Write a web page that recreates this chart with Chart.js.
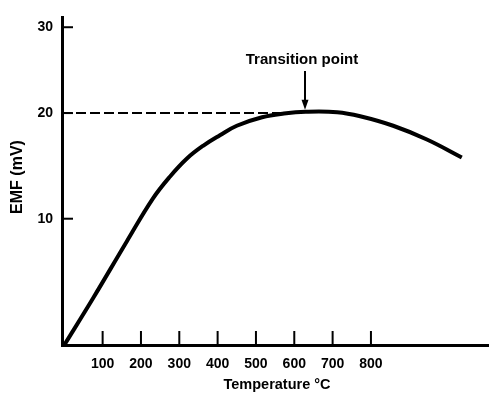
<!DOCTYPE html>
<html>
<head>
<meta charset="utf-8">
<script src="https://cdn.jsdelivr.net/npm/chart.js@4.4.1/dist/chart.umd.min.js"></script>
<style>
  html, body { margin: 0; padding: 0; background: #fff; }
  #wrap { width: 489px; height: 394px; }
</style>
</head>
<body>
<div id="wrap"><canvas id="myChart" width="489" height="394"></canvas></div>
<script>
// EMF vs temperature
var temperatures = [0, 75, 163, 231, 276, 320, 362, 406, 450, 516, 573, 630, 712, 772, 858, 946, 1037];
var emfValues    = [0, 3.7, 8.2, 11.9, 14.0, 15.7, 16.9, 17.9, 18.8, 19.6, 19.95, 20.15, 20.1, 19.7, 18.8, 17.5, 15.8];

var xTickValues = [100, 200, 300, 400, 500, 600, 700, 800];
var yTickValues = [10, 20, 30];

var transitionTemp = 628;
var transitionEmf = 20.15;
var dashedLevel = 20;

var xTitle = "Temperature °C";
var yTitle = "EMF (mV)";
var noteText = "Transition point";

// the printed y axis is not evenly spaced, so the scale is warped piecewise
var knotValues = [0, 10, 20, 30, 31.1];
var knotFracs  = [0, 0.3855, 0.708, 0.970, 1];

function warp(v) {
    for (var i = 1; i < knotValues.length; i++) {
        if (v <= knotValues[i] || i == knotValues.length - 1) {
            var t = (v - knotValues[i - 1]) / (knotValues[i] - knotValues[i - 1]);
            return knotFracs[i - 1] + t * (knotFracs[i] - knotFracs[i - 1]);
        }
    }
}
function unwarp(d) {
    for (var i = 1; i < knotFracs.length; i++) {
        if (d <= knotFracs[i] || i == knotFracs.length - 1) {
            var t = (d - knotFracs[i - 1]) / (knotFracs[i] - knotFracs[i - 1]);
            return knotValues[i - 1] + t * (knotValues[i] - knotValues[i - 1]);
        }
    }
}

class WarpedScale extends Chart.LinearScale {
    getPixelForValue(value) {
        if (value === null || value === undefined) return NaN;
        return this.getPixelForDecimal(warp(value));
    }
    getValueForPixel(pixel) {
        return unwarp(this.getDecimalForPixel(pixel));
    }
}
WarpedScale.id = 'warped';
WarpedScale.defaults = Chart.LinearScale.defaults;
Chart.register(WarpedScale);

var FONT = "'Liberation Sans', Arial, sans-serif";

// inward tick marks, titles and the annotation
var extras = {
    id: 'extras',
    afterDraw: function (chart) {
        var ctx = chart.ctx;
        var xs = chart.scales.x, ys = chart.scales.y;
        var area = chart.chartArea;
        ctx.save();
        ctx.strokeStyle = '#000';
        ctx.fillStyle = '#000';
        ctx.lineWidth = 2;
        xTickValues.forEach(function (v) {
            var px = xs.getPixelForValue(v);
            ctx.beginPath();
            ctx.moveTo(px, area.bottom);
            ctx.lineTo(px, area.bottom - 14);
            ctx.stroke();
        });
        yTickValues.forEach(function (v) {
            var py = ys.getPixelForValue(v);
            ctx.beginPath();
            ctx.moveTo(area.left, py);
            ctx.lineTo(area.left + 11, py);
            ctx.stroke();
        });

        // axis titles
        ctx.textAlign = 'center';
        ctx.textBaseline = 'middle';
        ctx.font = "bold 14.5px " + FONT;
        ctx.fillText(xTitle, 277, 385);
        ctx.save();
        ctx.font = "bold 16px " + FONT;
        ctx.translate(18, 177);
        ctx.rotate(-Math.PI / 2);
        ctx.fillText(yTitle, 0, 0);
        ctx.restore();

        // transition point arrow
        var ax = xs.getPixelForValue(transitionTemp);
        var tipY = ys.getPixelForValue(transitionEmf) - 2;
        ctx.lineWidth = 2;
        ctx.beginPath();
        ctx.moveTo(ax, 71);
        ctx.lineTo(ax, tipY - 8);
        ctx.stroke();
        ctx.beginPath();
        ctx.moveTo(ax - 3.5, tipY - 10);
        ctx.lineTo(ax + 3.5, tipY - 10);
        ctx.lineTo(ax, tipY);
        ctx.closePath();
        ctx.fill();
        ctx.font = "bold 15px " + FONT;
        ctx.fillText(noteText, ax - 3, 60);
        ctx.restore();
    }
};

var curvePoints = temperatures.map(function (t, i) { return { x: t, y: emfValues[i] }; });

new Chart(document.getElementById('myChart'), {
    type: 'line',
    data: {
        datasets: [{
            data: curvePoints,
            borderColor: '#000',
            borderWidth: 4,
            pointRadius: 0,
            tension: 0.4,
            fill: false
        }, {
            data: [{ x: -6, y: dashedLevel }, { x: transitionTemp - 20, y: dashedLevel }],
            borderColor: '#000',
            borderWidth: 2,
            borderDash: [10, 4],
            pointRadius: 0,
            fill: false
        }]
    },
    options: {
        responsive: false,
        animation: false,
        events: [],
        layout: { padding: { top: 13, right: 0, left: 0, bottom: 0 } },
        plugins: { legend: { display: false }, tooltip: { enabled: false } },
        scales: {
            x: {
                type: 'linear',
                min: -6,
                max: 1108,
                afterBuildTicks: function (scale) {
                    scale.ticks = xTickValues.map(function (v) { return { value: v }; });
                },
                afterFit: function (scale) { scale.height = 49; },
                grid: { drawOnChartArea: false, drawTicks: false },
                border: { color: '#000', width: 3 },
                ticks: {
                    color: '#000',
                    padding: 11,
                    maxRotation: 0,
                    autoSkip: false,
                    font: { family: FONT, size: 14, weight: 'bold' },
                    callback: function (v) { return String(v); }
                }
            },
            y: {
                type: 'warped',
                min: 0,
                max: 31.1,
                afterBuildTicks: function (scale) {
                    scale.ticks = yTickValues.map(function (v) { return { value: v }; });
                },
                afterFit: function (scale) { scale.width = 62; },
                grid: { drawOnChartArea: false, drawTicks: false },
                border: { color: '#000', width: 3 },
                ticks: {
                    color: '#000',
                    padding: 9,
                    autoSkip: false,
                    font: { family: FONT, size: 14, weight: 'bold' },
                    callback: function (v) { return String(v); }
                }
            }
        }
    },
    plugins: [extras]
});
</script>
</body>
</html>
